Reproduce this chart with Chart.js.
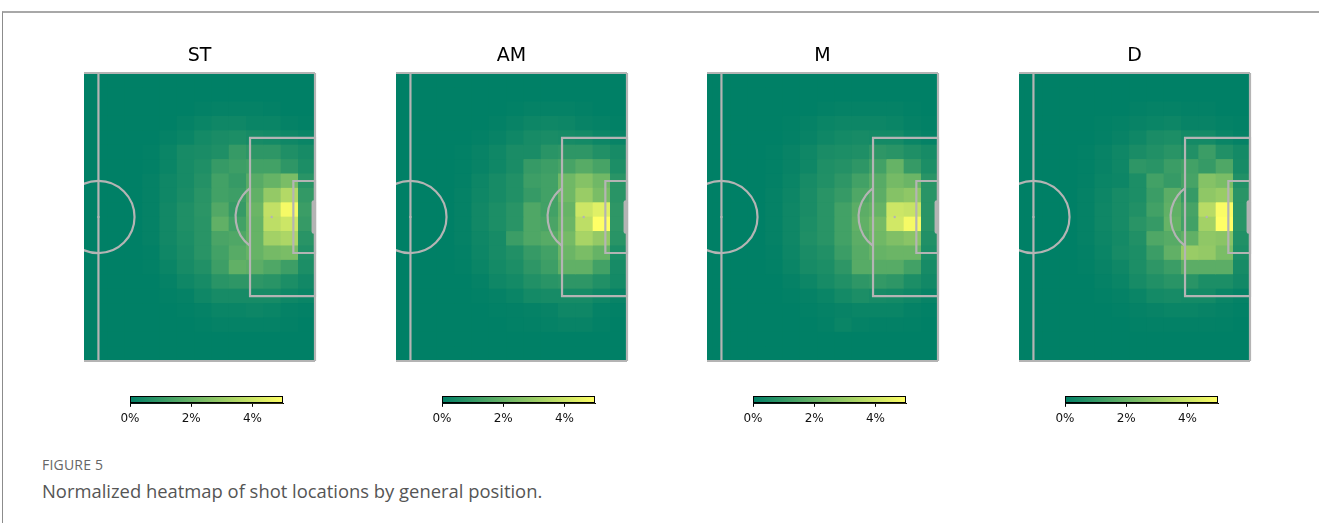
<!DOCTYPE html>
<html>
<head>
<meta charset="utf-8">
<script src="https://cdn.jsdelivr.net/npm/chart.js@4.4.1/dist/chart.umd.min.js"></script>
<style>
html,body{margin:0;padding:0;background:#fff;}
body{width:1319px;height:523px;position:relative;overflow:hidden;font-family:"DejaVu Sans",sans-serif;}
#frame{position:absolute;left:2px;top:11px;right:-2px;bottom:-2px;border-top:2px solid #a8a8a8;border-left:1px solid #8c8c8c;}
canvas{position:absolute;}
#fig{position:absolute;left:42px;top:455px;font-family:"Open Sans",sans-serif;font-size:14px;color:#666;letter-spacing:0.2px;}
#cap{position:absolute;left:42px;top:478px;font-family:"Open Sans",sans-serif;font-size:18.4px;color:#555;}
</style>
</head>
<body>
<div id="frame"></div>
<div id="fig">FIGURE 5</div>
<div id="cap">Normalized heatmap of shot locations by general position.</div>
<script>
// ---------------- data ----------------
const panelTitles = ['ST', 'AM', 'M', 'D'];
const colorbarTicks = [0, 2, 4];           // percent
const colorbarMax = 5;                     // percent (vmax of the colour scale)
// Heatmap bins: 25 x 20 over a 120 x 80 StatsBomb pitch; shown: x 57.6..120 (13 columns), 20 rows top->bottom
// Values are percentage of shots per bin.
const stGrid = [
 [0,0,0,0,0,0,0,0,0,0,0,0,0],
 [0,0,0,0,0,0,0,0,0,0,0,0,0],
 [0,0,0,0,0,0,0.06,0.1,0.1,0.1,0.06,0,0],
 [0,0,0,0,0,0.1,0.2,0.3,0.3,0.2,0.2,0.1,0.04],
 [0,0,0,0,0.1,0.2,0.4,0.5,0.55,0.45,0.4,0.3,0.2],
 [0,0,0,0.04,0.2,0.45,0.5,0.6,1.05,0.9,0.9,0.6,0.45],
 [0,0,0,0.04,0.2,0.45,0.6,1.05,1.2,1.3,1.3,0.9,0.55],
 [0,0,0,0.1,0.3,0.45,0.7,1.3,1.05,1.7,2.0,2.4,0.8],
 [0,0,0,0.1,0.3,0.5,0.8,1.3,1.2,1.9,2.9,3.5,1.0],
 [0,0,0,0.1,0.35,0.6,0.85,1.6,1.05,2.1,3.8,4.8,1.15],
 [0,0,0,0.1,0.35,0.6,0.8,1.9,1.3,2.0,3.7,4.0,1.05],
 [0,0,0,0.1,0.35,0.55,0.8,1.45,1.55,2.0,3.2,3.4,0.8],
 [0,0,0,0.04,0.3,0.5,0.8,1.3,1.7,2.0,2.3,2.4,0.65],
 [0,0,0,0.04,0.2,0.45,0.65,1.2,1.9,1.8,1.55,1.2,0.55],
 [0,0,0,0,0.1,0.3,0.45,0.8,0.9,0.9,0.8,0.55,0.35],
 [0,0,0,0,0.04,0.1,0.3,0.45,0.45,0.45,0.45,0.3,0.2],
 [0,0,0,0,0,0.04,0.1,0.2,0.2,0.25,0.2,0.1,0.06],
 [0,0,0,0,0,0,0.04,0.1,0.1,0.1,0.1,0.06,0],
 [0,0,0,0,0,0,0,0,0,0,0,0,0],
 [0,0,0,0,0,0,0,0,0,0,0,0,0]
];
const amGrid = [
 [0,0,0,0,0,0,0,0,0,0,0,0,0],
 [0,0,0,0,0,0,0,0,0,0,0,0,0],
 [0,0,0,0,0,0,0.04,0.1,0.1,0.1,0.06,0,0],
 [0,0,0,0,0,0.06,0.15,0.25,0.3,0.25,0.15,0.1,0.04],
 [0,0,0,0,0.06,0.15,0.3,0.45,0.5,0.45,0.4,0.25,0.15],
 [0,0,0,0.04,0.15,0.3,0.5,0.5,0.8,0.9,0.9,0.65,0.45],
 [0,0,0,0.04,0.15,0.3,0.5,1.05,1.2,1.4,1.7,1.4,0.55],
 [0,0,0,0.06,0.25,0.45,0.65,1.2,1.3,2.2,2.6,2.2,0.8],
 [0,0,0,0.1,0.3,0.45,0.65,1.05,1.3,2.2,3.0,2.4,0.8],
 [0,0,0,0.1,0.35,0.55,0.8,1.55,1.3,2.0,4.0,4.4,0.9],
 [0,0,0,0.1,0.35,0.55,0.8,1.55,1.45,2.1,3.7,5.0,0.9],
 [0,0,0,0.1,0.3,0.45,1.15,1.55,1.7,2.3,3.3,2.9,0.8],
 [0,0,0,0.06,0.25,0.45,0.65,1.05,1.3,2.1,2.4,2.0,0.55],
 [0,0,0,0.04,0.2,0.4,0.55,0.9,1.2,1.9,1.9,1.3,0.45],
 [0,0,0,0,0.1,0.3,0.4,0.65,0.8,0.9,0.9,0.65,0.4],
 [0,0,0,0,0.04,0.1,0.2,0.4,0.45,0.45,0.45,0.3,0.15],
 [0,0,0,0,0,0.04,0.06,0.1,0.15,0.3,0.3,0.1,0.04],
 [0,0,0,0,0,0,0.04,0.06,0.1,0.15,0.15,0.06,0],
 [0,0,0,0,0,0,0,0,0,0,0,0,0],
 [0,0,0,0,0,0,0,0,0,0,0,0,0]
];
const mGrid = [
 [0,0,0,0,0,0,0,0,0,0,0,0,0],
 [0,0,0,0,0,0,0,0,0,0,0,0,0],
 [0,0,0,0,0,0,0.06,0.1,0.1,0.1,0.1,0.04,0],
 [0,0,0,0,0.04,0.1,0.2,0.25,0.25,0.25,0.2,0.1,0.04],
 [0,0,0,0,0.06,0.15,0.3,0.4,0.45,0.4,0.4,0.2,0.1],
 [0,0,0,0.04,0.15,0.3,0.5,0.55,0.6,0.9,0.8,0.6,0.45],
 [0,0,0,0.04,0.15,0.3,0.6,0.7,0.9,1.3,2.0,1.05,0.55],
 [0,0,0,0.06,0.2,0.45,0.65,0.9,1.3,1.7,2.3,2.1,0.8],
 [0,0,0,0.1,0.25,0.5,0.8,1.05,1.55,1.8,2.6,2.8,0.8],
 [0,0,0,0.1,0.3,0.5,0.8,1.3,1.8,2.0,4.0,3.9,0.8],
 [0,0,0,0.1,0.3,0.55,0.8,1.3,1.9,2.3,4.1,4.8,0.8],
 [0,0,0,0.1,0.3,0.6,0.8,1.3,1.8,2.2,2.5,2.7,0.65],
 [0,0,0,0.06,0.25,0.5,0.65,1.15,1.7,2.0,2.1,2.1,0.55],
 [0,0,0,0.04,0.2,0.45,0.55,0.9,1.7,1.7,1.7,1.3,0.45],
 [0,0,0,0,0.1,0.25,0.45,0.65,0.9,1.0,0.9,0.55,0.35],
 [0,0,0,0,0.04,0.1,0.2,0.4,0.55,0.45,0.4,0.3,0.15],
 [0,0,0,0,0,0.04,0.1,0.15,0.2,0.2,0.2,0.1,0.04],
 [0,0,0,0,0,0,0.06,0.2,0.1,0.06,0.06,0.04,0],
 [0,0,0,0,0,0,0,0,0,0,0,0,0],
 [0,0,0,0,0,0,0,0,0,0,0,0,0]
];
const dGrid = [
 [0,0,0,0,0,0,0,0,0,0,0,0,0],
 [0,0,0,0,0,0,0,0,0,0,0,0,0],
 [0,0,0,0,0,0,0.06,0.1,0.1,0.06,0.06,0,0],
 [0,0,0,0,0.04,0.08,0.15,0.2,0.25,0.15,0.15,0.08,0.04],
 [0,0,0,0,0.06,0.15,0.3,0.5,0.55,0.4,0.4,0.2,0.1],
 [0,0,0,0.04,0.15,0.3,0.5,0.65,0.8,0.65,1.15,0.65,0.4],
 [0,0,0,0.04,0.15,0.3,0.9,0.8,1.15,1.3,1.05,1.55,0.45],
 [0,0,0,0.06,0.2,0.25,0.55,1.3,1.05,1.4,2.6,2.4,0.65],
 [0,0,0,0.1,0.25,0.45,0.55,1.15,1.8,1.05,2.8,3.0,0.8],
 [0,0,0,0.1,0.3,0.45,0.65,1.3,1.9,1.4,3.6,4.9,0.8],
 [0,0,0,0.1,0.3,0.45,0.8,1.05,2.0,1.3,3.2,5.0,0.8],
 [0,0,0,0.1,0.25,0.4,0.65,1.55,1.7,1.9,2.8,2.7,0.65],
 [0,0,0,0.06,0.2,0.45,0.55,1.15,1.9,3.0,2.9,2.4,0.55],
 [0,0,0,0.04,0.15,0.3,0.55,0.9,1.15,1.8,1.8,1.8,0.45],
 [0,0,0,0,0.1,0.2,0.45,0.65,0.8,0.8,0.55,0.55,0.35],
 [0,0,0,0,0.04,0.1,0.2,0.4,0.45,0.4,0.4,0.2,0.1],
 [0,0,0,0,0,0.04,0.1,0.15,0.2,0.2,0.15,0.1,0.04],
 [0,0,0,0,0,0,0.04,0.06,0.06,0.06,0.06,0.04,0],
 [0,0,0,0,0,0,0,0,0,0,0,0,0],
 [0,0,0,0,0,0,0,0,0,0,0,0,0]
];
const panelGrids = [stGrid, amGrid, mGrid, dGrid];

// ---------------- pitch geometry (StatsBomb units) ----------------
const PITCH_LEN = 120, PITCH_WID = 80, VIEW_X_MIN = 56;
const BINS_X = 25, BINS_Y = 20;
const BOX = [102, 18, 120, 62], SIX = [114, 30, 120, 50];
const CENTER = [60, 40], PEN_SPOT = [108, 40], CIRCLE_R = 10, GOAL = [36, 44];

// ---------------- helpers ----------------
function cmap(v) { // matplotlib 'summer'
  const t = Math.max(0, Math.min(1, v / colorbarMax));
  return 'rgb(' + Math.round(255 * t) + ',' + Math.round(127.5 + 127.5 * t) + ',102)';
}
Chart.defaults.animation = false;
Chart.defaults.responsive = false;
Chart.defaults.devicePixelRatio = 1;
Chart.defaults.events = [];
Chart.defaults.plugins.legend.display = false;
Chart.defaults.plugins.tooltip.enabled = false;

const binW = PITCH_LEN / BINS_X, binH = PITCH_WID / BINS_Y;
const firstCol = BINS_X - 13;

const pitchBg = {
  id: 'pitchBg',
  beforeDatasetsDraw(chart) {
    const { ctx, chartArea: a } = chart;
    ctx.save(); ctx.fillStyle = cmap(0);
    ctx.fillRect(a.left, a.top, a.right - a.left, a.bottom - a.top);
    ctx.restore();
  }
};
const pitchLines = {
  id: 'pitchLines',
  afterDatasetsDraw(chart) {
    const { ctx, chartArea: a, scales: { x, y } } = chart;
    const X = v => x.getPixelForValue(v), Y = v => y.getPixelForValue(v);
    ctx.save();
    ctx.strokeStyle = '#b4b4b4'; ctx.fillStyle = '#b4b4b4'; ctx.lineWidth = 2.2;
    const line = (x1, y1, x2, y2) => { ctx.beginPath(); ctx.moveTo(X(x1), Y(y1)); ctx.lineTo(X(x2), Y(y2)); ctx.stroke(); };
    const rect = r => { ctx.beginPath(); ctx.rect(X(r[0]), Y(r[1]), X(r[2]) - X(r[0]), Y(r[3]) - Y(r[1])); ctx.stroke(); };
    line(VIEW_X_MIN, 0, PITCH_LEN, 0);
    line(VIEW_X_MIN, PITCH_WID, PITCH_LEN, PITCH_WID);
    line(PITCH_LEN, 0, PITCH_LEN, PITCH_WID);
    line(CENTER[0], 0, CENTER[0], PITCH_WID);
    rect(BOX); rect(SIX);
    const r = X(CENTER[0] + CIRCLE_R) - X(CENTER[0]);
    ctx.save(); ctx.beginPath(); ctx.rect(a.left, a.top - 5, a.right - a.left + 5, a.bottom - a.top + 10); ctx.clip();
    ctx.beginPath(); ctx.arc(X(CENTER[0]), Y(CENTER[1]), r, 0, Math.PI * 2); ctx.stroke();
    ctx.restore();
    const ang = Math.acos((PEN_SPOT[0] - BOX[0]) / CIRCLE_R);
    ctx.beginPath(); ctx.arc(X(PEN_SPOT[0]), Y(PEN_SPOT[1]), r, Math.PI - ang, Math.PI + ang); ctx.stroke();
    ctx.beginPath(); ctx.arc(X(CENTER[0]), Y(CENTER[1]), 1.2, 0, Math.PI * 2); ctx.fill();
    ctx.beginPath(); ctx.arc(X(PEN_SPOT[0]), Y(PEN_SPOT[1]), 1.2, 0, Math.PI * 2); ctx.fill();
    ctx.lineWidth = 4.5; ctx.lineCap = 'round';
    ctx.beginPath(); ctx.moveTo(X(PITCH_LEN) - 1.2, Y(GOAL[0])); ctx.lineTo(X(PITCH_LEN) - 1.2, Y(GOAL[1])); ctx.stroke();
    ctx.restore();
  }
};
const cbarBorder = {
  id: 'cbarBorder',
  afterDraw(chart) {
    const { ctx, chartArea: a } = chart;
    ctx.save(); ctx.strokeStyle = '#000'; ctx.lineWidth = 1;
    ctx.strokeRect(Math.round(a.left) + 0.5, Math.round(a.top) + 0.5, Math.round(a.right - a.left) - 1, Math.round(a.bottom - a.top) - 1);
    ctx.restore();
  }
};

const PANEL_LEFT = [84, 396, 707, 1019];
const PAD_X = 8;

panelTitles.forEach((title, k) => {
  const grid = panelGrids[k];
  const cv = document.createElement('canvas');
  cv.width = 231 + 2 * PAD_X; cv.height = 340;
  cv.style.left = (PANEL_LEFT[k] - PAD_X) + 'px'; cv.style.top = '30px';
  document.body.appendChild(cv);
  const datasets = [];
  for (let j = 0; j < 13; j++) {
    const x0 = (firstCol + j) * binW, x1 = x0 + binW;
    datasets.push({
      data: grid.map((row, i) => ({ x: [x0, x1], y: (i + 0.5) * binH })),
      backgroundColor: grid.map(row => cmap(row[j])),
      borderWidth: 0, grouped: false, barPercentage: 1, categoryPercentage: 1
    });
  }
  new Chart(cv, {
    type: 'bar',
    data: { datasets },
    options: {
      indexAxis: 'y',
      layout: { padding: { left: PAD_X, right: PAD_X, top: 0, bottom: 9 } },
      plugins: {
        title: { display: true, text: title, color: '#000', font: { family: 'DejaVu Sans', size: 19, weight: 'normal', lineHeight: 1.2 }, padding: { top: 15, bottom: 5.2 } }
      },
      scales: {
        x: { type: 'linear', min: VIEW_X_MIN, max: PITCH_LEN, display: false },
        y: { type: 'linear', min: 0, max: PITCH_WID, reverse: true, offset: false, display: false, ticks: { stepSize: 20 } }
      }
    },
    plugins: [pitchBg, pitchLines]
  });

  // colour bar
  const cb = document.createElement('canvas');
  cb.width = 153 + 48; cb.height = 50;
  cb.style.left = (PANEL_LEFT[k] + 46 - 24) + 'px'; cb.style.top = '390px';
  document.body.appendChild(cb);
  new Chart(cb, {
    type: 'bar',
    data: { labels: [''], datasets: [{
      data: [[0, colorbarMax]],
      backgroundColor: c => {
        const a = c.chart.chartArea;
        if (!a) return cmap(0);
        const g = c.chart.ctx.createLinearGradient(a.left, 0, a.right, 0);
        for (let s = 0; s <= 10; s++) g.addColorStop(s / 10, cmap(colorbarMax * s / 10));
        return g;
      },
      borderWidth: 0, barPercentage: 1, categoryPercentage: 1
    }] },
    options: {
      indexAxis: 'y',
      layout: { padding: { left: 24, right: 24, top: 6, bottom: 14.7 } },
      scales: {
        x: { type: 'linear', min: 0, max: colorbarMax,
             afterBuildTicks: s => { s.ticks = colorbarTicks.map(v => ({ value: v })); },
             afterFit: s => { s.height = 22; },
             ticks: { callback: v => v + '%', color: '#111', font: { family: 'DejaVu Sans', size: 12 }, padding: 5 },
             grid: { drawOnChartArea: false, drawTicks: true, tickLength: 3.5, color: '#000', tickColor: '#000', lineWidth: 1 },
             border: { display: true, color: '#000' } },
        y: { display: false }
      }
    },
    plugins: [cbarBorder]
  });
});
</script>
</body>
</html>
